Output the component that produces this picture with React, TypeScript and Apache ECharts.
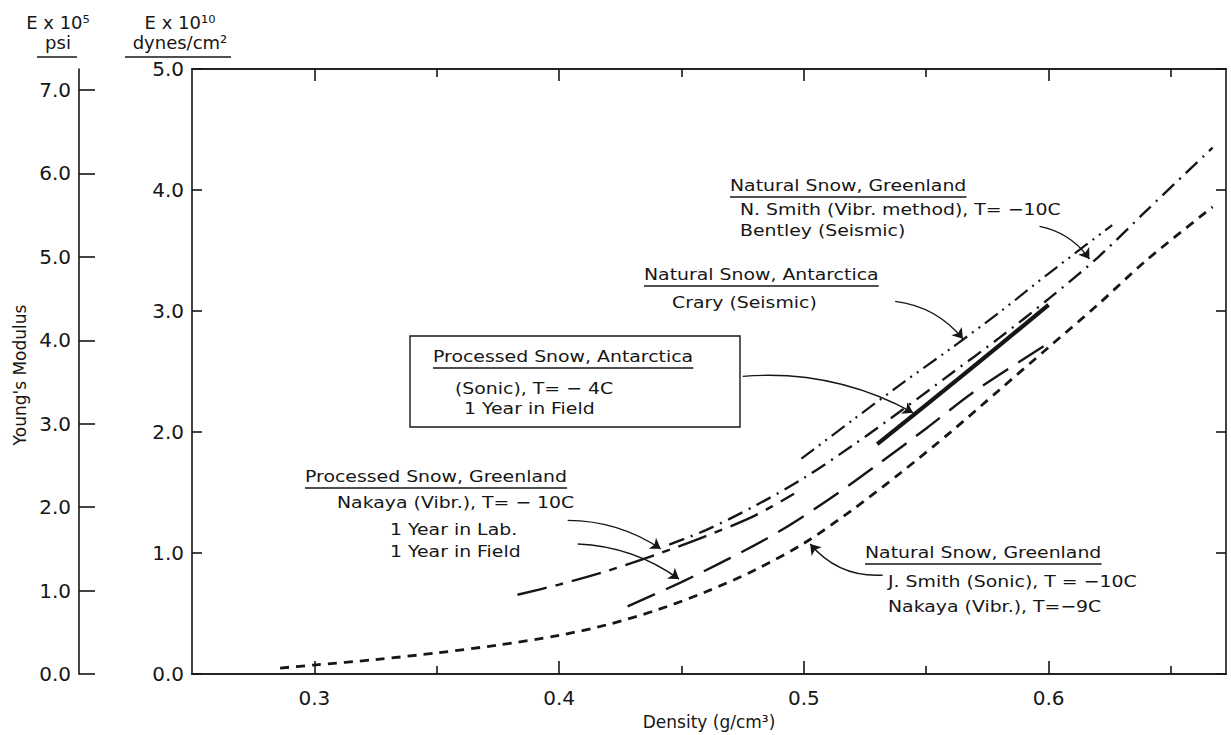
import React, { useEffect, useRef } from "react";
import * as echarts from "echarts";

// Axis ranges and tick positions
const densityMin = 0.25;
const densityMax = 0.6725;
const densityTicksMajor = [0.3, 0.4, 0.5, 0.6];
const densityTicksMinor = [0.35, 0.45, 0.55, 0.65];
const modulusTicks = [0, 1, 2, 3, 4, 5];
const psiTicks = [0, 1, 2, 3, 4, 5, 6, 7];
// 1e5 psi expressed in units of 1e10 dynes/cm2
const dynesPerPsi = 0.6895;

// Natural snow, Greenland: J. Smith (sonic), Nakaya (vibr.)
const jSmithDensity = [0.286, 0.3, 0.325, 0.35, 0.375, 0.4, 0.42, 0.44, 0.46, 0.48, 0.5, 0.52, 0.54, 0.56, 0.58, 0.6, 0.62, 0.64, 0.667];
const jSmithModulus = [0.05, 0.075, 0.12, 0.175, 0.24, 0.32, 0.41, 0.53, 0.68, 0.86, 1.08, 1.36, 1.67, 2.0, 2.35, 2.7, 3.05, 3.42, 3.86];

// Processed snow, Greenland, 1 year in field
const fieldDensity = [0.428, 0.45, 0.47, 0.49, 0.51, 0.53, 0.55, 0.57, 0.598];
const fieldModulus = [0.56, 0.76, 0.96, 1.18, 1.44, 1.73, 2.03, 2.34, 2.71];

// Processed snow, Greenland, 1 year in lab
const labDensity = [0.383, 0.4, 0.42, 0.44, 0.46, 0.48, 0.496];
const labModulus = [0.656, 0.74, 0.855, 0.99, 1.14, 1.31, 1.49];

// Natural snow, Greenland: N. Smith (vibr.), Bentley (seismic)
const nSmithDensity = [0.445, 0.46, 0.48, 0.5, 0.52, 0.54, 0.56, 0.58, 0.6, 0.62, 0.64, 0.667];
const nSmithModulus = [1.07, 1.19, 1.39, 1.62, 1.89, 2.18, 2.48, 2.78, 3.1, 3.44, 3.83, 4.35];

// Natural snow, Antarctica: Crary (seismic)
const craryDensity = [0.499, 0.52, 0.54, 0.56, 0.58, 0.6, 0.626];
const craryModulus = [1.78, 2.1, 2.4, 2.69, 2.99, 3.31, 3.71];

// Processed snow, Antarctica (sonic), 1 year in field
const antarcticDensity = [0.53, 0.565, 0.6];
const antarcticModulus = [1.9, 2.47, 3.05];

const FONT = '"DejaVu Sans", sans-serif';
const INK = "#161616";

const zip = (xs: number[], ys: number[]) => xs.map((x, i) => [x, ys[i]]);

// Leader arrows: [fromDensity, fromModulus, toDensity, toModulus, curveness]
const arrows: number[][] = [
  [0.5963, 3.7, 0.6167, 3.43, 0.2],
  [0.5373, 3.08, 0.565, 2.77, 0.2],
  [0.475, 2.46, 0.5446, 2.16, 0.15],
  [0.4035, 1.27, 0.4415, 1.035, 0.15],
  [0.4076, 1.075, 0.449, 0.785, 0.15],
  [0.5323, 0.818, 0.5026, 1.075, 0.25],
];

type Note = { x: number; y: number; text: string; underline?: boolean };
const notes: Note[] = [
  { x: 730, y: 186, text: "Natural Snow, Greenland", underline: true },
  { x: 740, y: 210, text: "N. Smith (Vibr. method), T= −10C" },
  { x: 740, y: 231, text: "Bentley (Seismic)" },
  { x: 644, y: 275, text: "Natural Snow, Antarctica", underline: true },
  { x: 672, y: 303, text: "Crary (Seismic)" },
  { x: 433, y: 357, text: "Processed Snow, Antarctica", underline: true },
  { x: 455, y: 389, text: "(Sonic), T= − 4C" },
  { x: 464, y: 409, text: "1 Year in Field" },
  { x: 305, y: 477, text: "Processed Snow, Greenland", underline: true },
  { x: 337, y: 503, text: "Nakaya (Vibr.), T= − 10C" },
  { x: 390, y: 530, text: "1 Year in Lab." },
  { x: 390, y: 552, text: "1 Year in Field" },
  { x: 865, y: 553, text: "Natural Snow, Greenland", underline: true },
  { x: 888, y: 582, text: "J. Smith (Sonic), T = −10C" },
  { x: 888, y: 607, text: "Nakaya (Vibr.), T=−9C" },
];

const NOTE_SIZE = 16;
const NOTE_STRETCH = 1.18;

function textWidth(text: string, size: number): number {
  const ctx = document.createElement("canvas").getContext("2d");
  if (!ctx) return text.length * size * 0.6;
  ctx.font = `${size}px "DejaVu Sans"`;
  return ctx.measureText(text).width;
}

export default function App() {
  const ref = useRef<HTMLDivElement>(null);

  useEffect(() => {
    const el = ref.current;
    if (!el) return;
    const chart = echarts.init(el, null, { renderer: "svg" });

    const lineStyle = { color: INK, width: 1.6 };

    const xBase = {
      type: "value",
      min: densityMin,
      max: densityMax,
      splitLine: { show: false },
      axisLine: { show: true, onZero: false, lineStyle },
    };

    const curve = (name: string, xs: number[], ys: number[], dash: number[] | "solid", width: number) => ({
      name,
      type: "line",
      data: zip(xs, ys),
      smooth: 0.3,
      symbol: "none",
      lineStyle: { color: INK, width, type: dash, cap: "butt" },
      z: 3,
    });

    const graphics: any[] = [];

    // Unit headers over the two vertical scales
    const header = (cx: number, top: string, bottom: string, ulFrom: number, ulTo: number) => {
      graphics.push(
        { type: "text", x: cx, y: 22, style: { text: top, fontSize: 18, fontFamily: FONT, fill: INK, align: "center", verticalAlign: "middle" } },
        { type: "text", x: cx, y: 42, style: { text: bottom, fontSize: 18, fontFamily: FONT, fill: INK, align: "center", verticalAlign: "middle" } },
        { type: "line", shape: { x1: ulFrom, y1: 57, x2: ulTo, y2: 57 }, style: { stroke: INK, lineWidth: 1.6 } }
      );
    };
    header(58, "E x 10⁵", "psi", 37, 77);
    header(180, "E x 10¹⁰", "dynes/cm²", 125, 231);

    graphics.push({
      type: "text",
      x: 20,
      y: 375,
      rotation: Math.PI / 2,
      style: { text: "Young's Modulus", fontSize: 17, fontFamily: FONT, fill: INK, align: "center", verticalAlign: "middle" },
    });

    // Frame around the processed-snow Antarctica note
    graphics.push({
      type: "rect",
      shape: { x: 410, y: 336, width: 330, height: 91 },
      style: { fill: "#ffffff", stroke: INK, lineWidth: 1.4 },
      z: 1,
    });

    notes.forEach((n) => {
      graphics.push({
        type: "text",
        x: n.x,
        y: n.y,
        scaleX: NOTE_STRETCH,
        style: { text: n.text, fontSize: NOTE_SIZE, fontFamily: FONT, fill: INK, align: "left", verticalAlign: "middle" },
        z: 2,
      });
      if (n.underline) {
        const w = textWidth(n.text, NOTE_SIZE) * NOTE_STRETCH;
        graphics.push({
          type: "line",
          shape: { x1: n.x, y1: n.y + 11, x2: n.x + w, y2: n.y + 11 },
          style: { stroke: INK, lineWidth: 1.6 },
          z: 2,
        });
      }
    });

    const option: any = {
      animation: false,
      backgroundColor: "#ffffff",
      textStyle: { fontFamily: FONT, color: INK },
      grid: { left: 192, right: 5, top: 69, bottom: 49, containLabel: false },
      xAxis: [
        {
          ...xBase,
          position: "bottom",
          axisTick: { show: true, inside: true, length: 13, customValues: densityTicksMajor, lineStyle },
          axisLabel: {
            show: true,
            customValues: densityTicksMajor,
            formatter: (v: number) => v.toFixed(1),
            fontSize: 20,
            margin: 14,
            color: INK,
            fontFamily: FONT,
          },
          name: "Density (g/cm³)",
          nameLocation: "middle",
          nameGap: 33,
          nameTextStyle: { fontSize: 17, color: INK, fontFamily: FONT },
        },
        {
          ...xBase,
          position: "bottom",
          axisTick: { show: true, inside: true, length: 8, customValues: densityTicksMinor, lineStyle },
          axisLabel: { show: false },
        },
        {
          ...xBase,
          position: "top",
          axisTick: { show: true, inside: true, length: 12, customValues: densityTicksMajor, lineStyle },
          axisLabel: { show: false },
        },
        {
          ...xBase,
          position: "top",
          axisTick: { show: true, inside: true, length: 8, customValues: densityTicksMinor, lineStyle },
          axisLabel: { show: false },
        },
      ],
      yAxis: [
        {
          type: "value",
          position: "left",
          min: 0,
          max: 5,
          interval: 1,
          splitLine: { show: false },
          axisLine: { show: true, onZero: false, lineStyle },
          axisTick: { show: true, inside: true, length: 10, customValues: modulusTicks, lineStyle },
          axisLabel: {
            customValues: modulusTicks,
            formatter: (v: number) => v.toFixed(1),
            fontSize: 20,
            margin: 8,
            color: INK,
            fontFamily: FONT,
          },
        },
        {
          type: "value",
          position: "left",
          offset: 113,
          min: 0,
          max: 5 / dynesPerPsi,
          splitLine: { show: false },
          axisLine: { show: true, onZero: false, lineStyle },
          axisTick: { show: true, inside: true, length: 16, customValues: psiTicks, lineStyle },
          axisLabel: {
            customValues: psiTicks,
            formatter: (v: number) => v.toFixed(1),
            fontSize: 20,
            margin: 8,
            color: INK,
            fontFamily: FONT,
          },
        },
        {
          type: "value",
          position: "right",
          min: 0,
          max: 5,
          interval: 1,
          splitLine: { show: false },
          axisLine: { show: true, onZero: false, lineStyle },
          axisTick: { show: true, inside: true, length: 10, lineStyle },
          axisLabel: { show: false },
        },
      ],
      series: [
        curve("J. Smith / Nakaya, natural Greenland", jSmithDensity, jSmithModulus, [9, 7], 2.8),
        curve("Nakaya, 1 year in field", fieldDensity, fieldModulus, [30, 12], 2.4),
        curve("Nakaya, 1 year in lab", labDensity, labModulus, [30, 9, 8, 9], 2.4),
        curve("N. Smith / Bentley, natural Greenland", nSmithDensity, nSmithModulus, [16, 7, 2, 7], 2.4),
        curve("Crary, natural Antarctica", craryDensity, craryModulus, [16, 6, 2, 6, 2, 6], 2.2),
        curve("Processed Antarctica, sonic", antarcticDensity, antarcticModulus, "solid", 4.2),
        {
          type: "lines",
          coordinateSystem: "cartesian2d",
          xAxisIndex: 0,
          yAxisIndex: 0,
          symbol: ["none", "arrow"],
          symbolSize: 10,
          z: 4,
          lineStyle: { color: INK, width: 1.4, opacity: 1 },
          data: arrows.map((a) => ({
            coords: [
              [a[0], a[1]],
              [a[2], a[3]],
            ],
            lineStyle: { curveness: a[4] },
          })),
        },
      ],
      graphic: graphics,
    };

    chart.setOption(option);
    return () => chart.dispose();
  }, []);

  return (
    <div
      ref={ref}
      style={{ position: "fixed", left: 0, top: 0, width: 1231, height: 735, background: "#ffffff" }}
    />
  );
}
